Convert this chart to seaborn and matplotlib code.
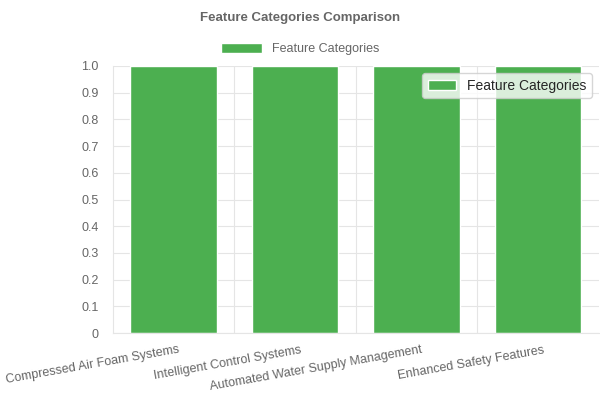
import numpy as np
import seaborn as sns
import matplotlib.pyplot as plt
import pandas as pd

categories = ['Compressed Air Foam Systems', 'Intelligent Control Systems',
              'Automated Water Supply Management', 'Enhanced Safety Features']
values = [1, 1, 1, 1]

df = pd.DataFrame({'cat': categories, 'val': values})

sns.set_style('white')
plt.rcParams['font.family'] = ['Liberation Sans', 'DejaVu Sans']

fig = plt.figure(figsize=(6, 4), dpi=100)
ax = fig.add_axes([0.188, 0.1675, 0.81, 0.6675])
sns.barplot(data=df, x='cat', y='val', color='#4CAF50', saturation=1,
            width=0.71, ax=ax, label='Feature Categories')

ax.set_xlim(-0.5, 3.5)
ax.set_ylim(0, 1)
yt = np.arange(0, 1.01, 0.1)
ax.set_yticks(yt)
ax.set_yticklabels(['0'] + [f'{v:.1f}' for v in yt[1:]])
ax.set_xticks(np.arange(4) + 0.04)
ax.set_xticklabels(categories, rotation=10, ha='right', rotation_mode='anchor')
ax.tick_params(axis='both', labelsize=9, colors='#666666', length=0)
ax.tick_params(axis='x', pad=8)
ax.tick_params(axis='y', pad=10)
ax.set_xlabel('')
ax.set_ylabel('')

ax.yaxis.grid(True, color='#e5e5e5', lw=0.8)
for b in [0.5, 1.5, 2.5]:
    ax.axvline(b, color='#e5e5e5', lw=0.8, zorder=0)
ax.set_axisbelow(True)
for s in ax.spines.values():
    s.set_color('#e5e5e5')
    s.set_linewidth(0.8)
ax.spines['top'].set_visible(False)
ax.spines['right'].set_visible(False)

handles, labels = ax.get_legend_handles_labels()
leg = fig.legend(handles, labels, loc='center', bbox_to_anchor=(0.5, 0.877),
                 frameon=False, fontsize=9, handlelength=3.3, handleheight=0.9)
for t in leg.get_texts():
    t.set_color('#666666')

fig.text(0.5, 0.955, 'Feature Categories Comparison', ha='center', va='center',
         fontsize=9.5, fontweight='bold', color='#666666')

fig.savefig('out.png', dpi=100)
